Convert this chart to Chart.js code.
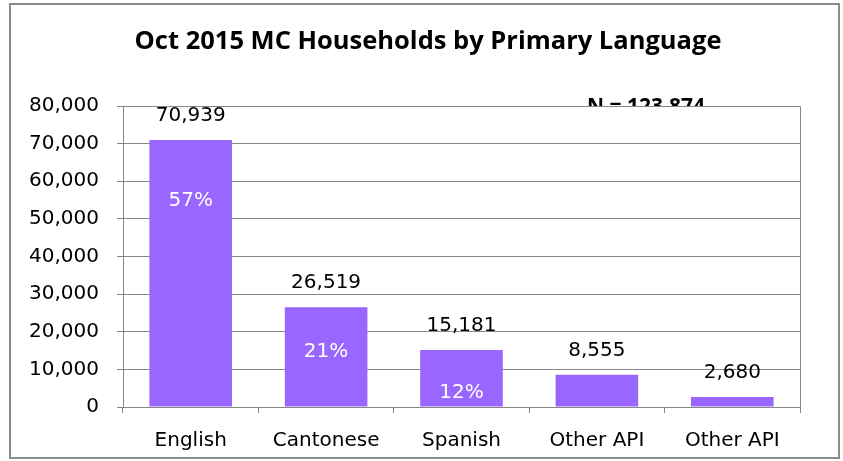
<!DOCTYPE html>
<html>
<head>
<meta charset="utf-8">
<script src="https://cdn.jsdelivr.net/npm/chart.js@4"></script>
<style>
    body { margin: 0; background: #fff; }
    #wrap { position: relative; width: 843px; height: 461px; }
</style>
</head>
<body>
<div id="wrap"><canvas id="langChart" width="843" height="461"></canvas></div>
<script>
// Chart data
const languages = ['English', 'Cantonese', 'Spanish', 'Other API', 'Other API'];
const households = [70939, 26519, 15181, 8555, 2680];
const shareLabels = ['57%', '21%', '12%', '', ''];
const yTicks = [0, 10000, 20000, 30000, 40000, 50000, 60000, 70000, 80000];
const chartTitle = 'Oct 2015 MC Households by Primary Language';
const totalNote = 'N = 123,874';

const FONT = "'DejaVu Sans', sans-serif";
const GRID = '#878787';

// Title, frame, N note and the bar labels
const decorations = {
    id: 'decorations',
    beforeDraw(chart) {
        const ctx = chart.ctx;
        const area = chart.chartArea;
        ctx.save();
        ctx.fillStyle = '#000';
        ctx.textAlign = 'center';
        ctx.textBaseline = 'middle';
        ctx.font = "bold 25.5px 'Open Sans', sans-serif";
        ctx.fillText(chartTitle, 428, 42);
        // N note, clipped by the plot area top
        ctx.beginPath();
        ctx.rect(0, 0, chart.width, area.top);
        ctx.clip();
        ctx.font = "bold 21px 'Open Sans', sans-serif";
        ctx.textBaseline = 'alphabetic';
        ctx.fillText(totalNote, 646, 113);
        ctx.restore();
    },
    afterDraw(chart) {
        const ctx = chart.ctx;
        const area = chart.chartArea;
        ctx.save();
        // plot frame (top + right)
        ctx.strokeStyle = GRID;
        ctx.lineWidth = 1;
        ctx.beginPath();
        ctx.moveTo(area.left, area.top + 0.5);
        ctx.lineTo(Math.round(area.right) + 0.5, area.top + 0.5);
        ctx.lineTo(Math.round(area.right) + 0.5, area.bottom);
        ctx.stroke();
        // outer border
        ctx.strokeStyle = '#8c8c8c';
        ctx.lineWidth = 2;
        ctx.strokeRect(10, 4, 829, 454);

        const meta = chart.getDatasetMeta(0);
        ctx.textAlign = 'center';
        ctx.font = '20px ' + FONT;
        const pctOffset = [61, 45, 43];
        meta.data.forEach((bar, i) => {
            ctx.fillStyle = '#000';
            ctx.textBaseline = 'bottom';
            ctx.fillText(households[i].toLocaleString('en-US'), bar.x, bar.y - 14);
            if (shareLabels[i]) {
                ctx.fillStyle = '#fff';
                ctx.textBaseline = 'middle';
                ctx.fillText(shareLabels[i], bar.x, bar.y + pctOffset[i]);
            }
        });
        ctx.restore();
    }
};

const ctx = document.getElementById('langChart').getContext('2d');
new Chart(ctx, {
    type: 'bar',
    data: {
        labels: languages,
        datasets: [{
            data: households,
            backgroundColor: '#9966FF',
            borderWidth: 0,
            categoryPercentage: 1,
            barPercentage: 0.61
        }]
    },
    options: {
        responsive: false,
        animation: false,
        layout: { padding: { left: 10, right: 43, top: 106, bottom: 9 } },
        plugins: {
            legend: { display: false },
            title: { display: false },
            tooltip: { enabled: false }
        },
        scales: {
            x: {
                afterFit(scale) { scale.height = 45; },
                grid: {
                    offset: true,
                    drawOnChartArea: false,
                    color: GRID,
                    tickLength: 6
                },
                border: { color: GRID },
                ticks: { color: '#000', font: { family: FONT, size: 20 }, padding: 16 }
            },
            y: {
                min: 0,
                max: 80000,
                afterFit(scale) { scale.width = 113; },
                afterBuildTicks(scale) { scale.ticks = yTicks.map(v => ({ value: v })); },
                grid: { color: GRID, tickLength: 6 },
                border: { color: GRID },
                ticks: {
                    color: '#000',
                    font: { family: FONT, size: 20 },
                    padding: 18,
                    callback: v => v.toLocaleString('en-US')
                }
            }
        }
    },
    plugins: [decorations]
});
</script>
</body>
</html>
